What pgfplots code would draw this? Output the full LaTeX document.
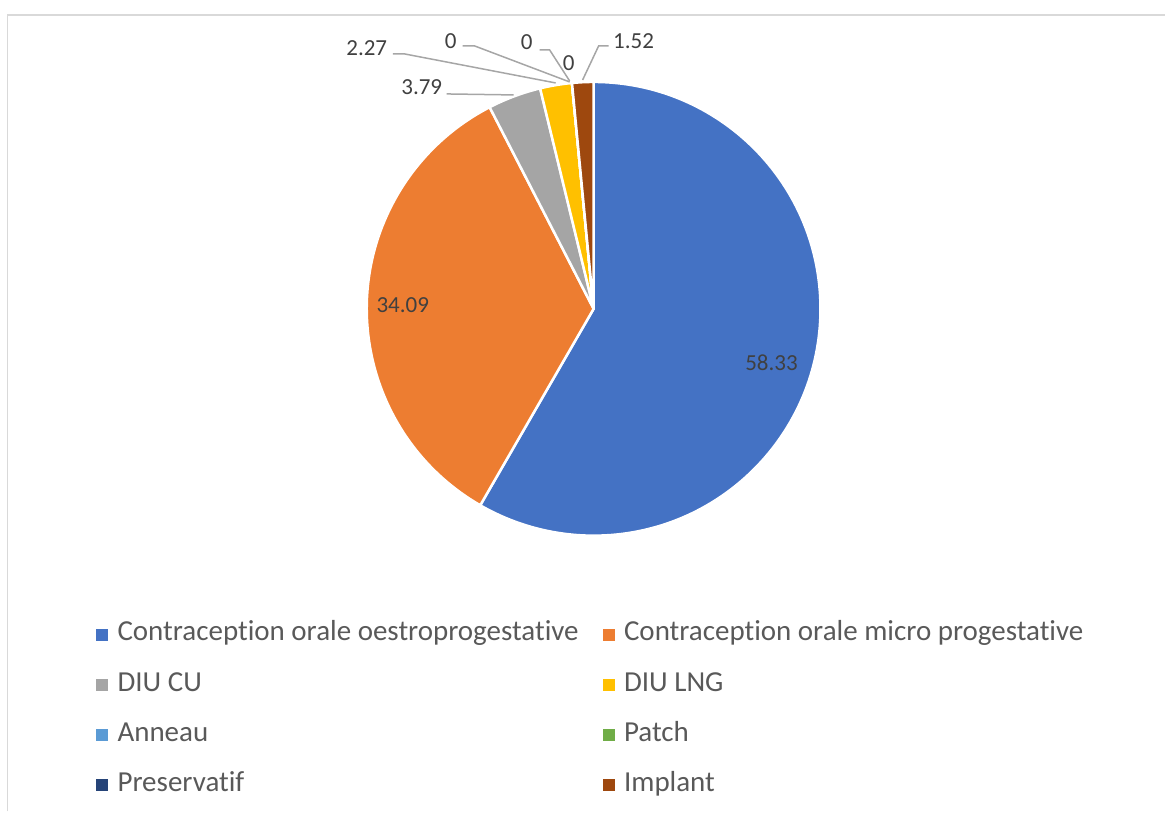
\documentclass[border=0pt]{standalone}
\usepackage{pgfplots}
\usepackage{pgfplotstable}
\pgfplotsset{compat=1.18}
\usepackage{fontspec}
\setmainfont{Carlito}[Ligatures=NoCommon]
\definecolor{c1}{HTML}{4472C4}
\definecolor{c2}{HTML}{ED7D31}
\definecolor{c3}{HTML}{A5A5A5}
\definecolor{c4}{HTML}{FFC000}
\definecolor{c5}{HTML}{5B9BD5}
\definecolor{c6}{HTML}{70AD47}
\definecolor{c7}{HTML}{264478}
\definecolor{c8}{HTML}{9E480E}
\definecolor{lbl}{HTML}{404040}
\definecolor{leg}{HTML}{595959}
\definecolor{lead}{HTML}{A6A6A6}
\definecolor{frm}{HTML}{D9D9D9}
\pgfplotstableread{
value color
58.33 c1
34.09 c2
3.79 c3
2.27 c4
0 c5
0 c6
0 c7
1.52 c8
}\piedata
\begin{document}
\begin{tikzpicture}
\begin{axis}[
  x=1pt, y=1pt, xmin=0, xmax=1166, ymin=0, ymax=812, y dir=reverse,
  hide axis, clip=false, scale only axis,
  legend columns=2,
  legend cell align=left,
  legend image code/.code={\fill[#1] (0pt,-5.5pt) rectangle (11pt,5.5pt);},
  legend style={at={(axis cs:96,622)}, anchor=north west, draw=none, fill=none,
    inner sep=0pt, column sep=10pt, row sep=25.3pt,
    font=\fontsize{29}{35}\selectfont, text=leg,
    nodes={inner sep=0pt, text height=19pt, text depth=6pt},
    /tikz/every even column/.append style={column sep=24pt}},
]
\path (axis cs:0,0) rectangle (axis cs:1166,812);
\draw[frm, line width=1.5pt] (axis cs:7.5,812) -- (axis cs:7.5,15) -- (axis cs:1166,15);
\xdef\cum{0}
\foreach \i in {0,...,7}{
  \pgfplotstablegetelem{\i}{value}\of\piedata
  \let\v\pgfplotsretval
  \pgfplotstablegetelem{\i}{color}\of\piedata
  \let\c\pgfplotsretval
  \pgfmathsetmacro\a{90-3.6*\cum}
  \pgfmathsetmacro\b{90-3.6*(\cum+\v)}
  \pgfmathsetmacro\newcum{\cum+\v}
  \xdef\cum{\newcum}
  \edef\temp{\noexpand\fill[\c, draw=white, line width=2.5pt, line join=round]
    (axis cs:594,309) -- ++(\a:227pt) arc[start angle=\a, end angle=\b, radius=227pt] -- cycle;}
  \temp
}
\tikzset{lab/.style={text=lbl, font=\fontsize{23}{28}\selectfont, inner sep=0pt}}
\node[lab] at (axis cs:772,363) {58.33};
\node[lab] at (axis cs:403,305) {34.09};
\node[lab] at (axis cs:422,87) {3.79};
\node[lab] at (axis cs:367,48) {2.27};
\node[lab] at (axis cs:451,41) {0};
\node[lab] at (axis cs:527,42) {0};
\node[lab] at (axis cs:569,63) {0};
\node[lab] at (axis cs:634,41) {1.52};
\draw[lead, line width=1.5pt] (axis cs:447,94) -- (axis cs:514,95);
\draw[lead, line width=1.5pt] (axis cs:393,54) -- (axis cs:405,54) -- (axis cs:556,83);
\draw[lead, line width=1.5pt] (axis cs:463,46) -- (axis cs:475,46) -- (axis cs:570,82);
\draw[lead, line width=1.5pt] (axis cs:540,50) -- (axis cs:550,50) -- (axis cs:570,81);
\draw[lead, line width=1.5pt] (axis cs:609,46) -- (axis cs:599,46) -- (axis cs:583,80);
\addlegendimage{c1}\addlegendentry{Contraception orale oestroprogestative}
\addlegendimage{c2}\addlegendentry{Contraception orale micro progestative}
\addlegendimage{c3}\addlegendentry{DIU CU}
\addlegendimage{c4}\addlegendentry{DIU LNG}
\addlegendimage{c5}\addlegendentry{Anneau}
\addlegendimage{c6}\addlegendentry{Patch}
\addlegendimage{c7}\addlegendentry{Preservatif}
\addlegendimage{c8}\addlegendentry{Implant}
\end{axis}
\end{tikzpicture}
\end{document}
